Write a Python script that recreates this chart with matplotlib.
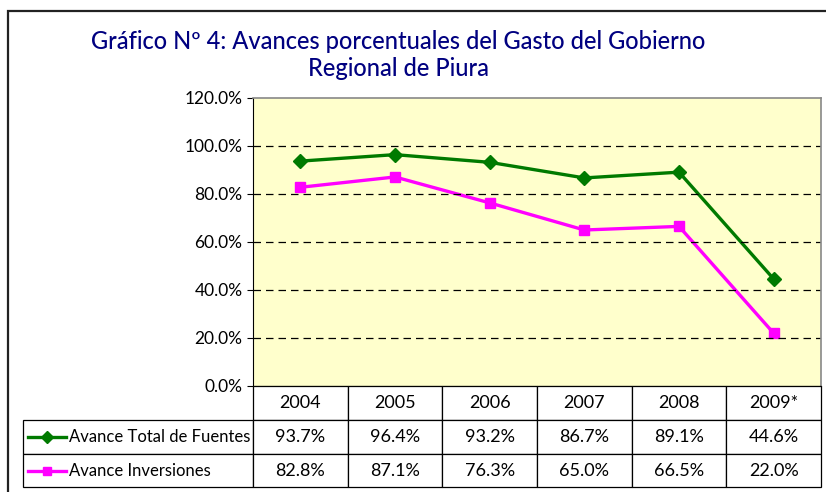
import matplotlib.pyplot as plt
from matplotlib.lines import Line2D
from matplotlib.patches import Rectangle
from matplotlib.ticker import FuncFormatter

years = ['2004', '2005', '2006', '2007', '2008', '2009*']
total_fuentes = [93.7, 96.4, 93.2, 86.7, 89.1, 44.6]
inversiones = [82.8, 87.1, 76.3, 65.0, 66.5, 22.0]
series_names = ['Avance Total de Fuentes', 'Avance Inversiones']
title = 'Gráfico Nº 4: Avances porcentuales del Gasto del Gobierno\nRegional de Piura'

W, H = 826, 492
plt.rcParams['font.family'] = ['Lato', 'DejaVu Sans']


def px(x0, y0, x1, y1):
    # pixel box (top-left origin) -> figure fraction rect
    return [x0 / W, 1 - y1 / H, (x1 - x0) / W, (y1 - y0) / H]


fig = plt.figure(figsize=(W / 100, H / 100), dpi=100)

# outer frame
fig.patches.append(Rectangle((8 / W, -0.1), 1.2, 1 - 11 / H + 0.1,
                             transform=fig.transFigure, fill=False,
                             edgecolor='#222222', linewidth=1.6))

fig.text(0.482, 1 - 55 / H, title, ha='center', va='center', fontsize=17,
         color='#000080', linespacing=1.25, fontweight='medium')

# plot area
ax = fig.add_axes(px(253, 98, 821, 386))
ax.set_facecolor('#FFFFCC')
x = list(range(len(years)))
ax.plot(x, total_fuentes, color='#007A00', linewidth=2.4, marker='D',
        markersize=7.5, label=series_names[0])
ax.plot(x, inversiones, color='#FF00FF', linewidth=2.4, marker='s',
        markersize=7.5, label=series_names[1])
ax.set_xlim(-0.5, len(years) - 0.5)
ax.set_ylim(0, 120)
ax.set_yticks(range(0, 121, 20))
ax.yaxis.set_major_formatter(FuncFormatter(lambda v, p: f'{v:.1f}%'))
ax.tick_params(axis='y', labelsize=12.5, length=4, direction='out')
ax.set_xticks([])
for v in range(20, 120, 20):
    ax.axhline(v, color='black', linewidth=0.9, linestyle=(0, (6, 4)))
for s in ['top', 'right']:
    ax.spines[s].set_color('#888888')
    ax.spines[s].set_linewidth(1.2)
ax.spines['left'].set_color('black')
ax.spines['bottom'].set_color('black')

# data table
tax = fig.add_axes(px(23, 386, 821, 487))
tax.axis('off')
cells = [[''] + years,
         [series_names[0]] + [f'{v:.1f}%' for v in total_fuentes],
         [series_names[1]] + [f'{v:.1f}%' for v in inversiones]]
label_w = (253 - 23) / (821 - 23)
col_w = (1 - label_w) / len(years)
tbl = tax.table(cellText=cells, colWidths=[label_w] + [col_w] * len(years),
                cellLoc='center', bbox=[0, 0, 1, 1])
tbl.auto_set_font_size(False)
row_h = [34, 34, 33]
for (r, c), cell in tbl.get_celld().items():
    cell.set_height(row_h[r] / sum(row_h))
    cell.set_linewidth(0.9)
    cell.get_text().set_fontsize(13)
    if r == 0 and c == 0:
        cell.set_visible(False)
    if c == 0 and r > 0:
        cell.get_text().set_ha('left')
        cell.get_text().set_fontsize(12)
        cell.PAD = 0.2

# legend keys in the row labels
keys = [('#007A00', 'D'), ('#FF00FF', 's')]
for i, (col, mk) in enumerate(keys):
    yc = 1 - (386 + 34 + 34 * i + 16.5) / H
    fig.add_artist(Line2D([28 / W, 66 / W], [yc, yc], color=col, linewidth=2.4,
                          transform=fig.transFigure))
    fig.add_artist(Line2D([47 / W], [yc], color=col, marker=mk, markersize=6,
                          transform=fig.transFigure))

fig.savefig('out.png', dpi=100)
